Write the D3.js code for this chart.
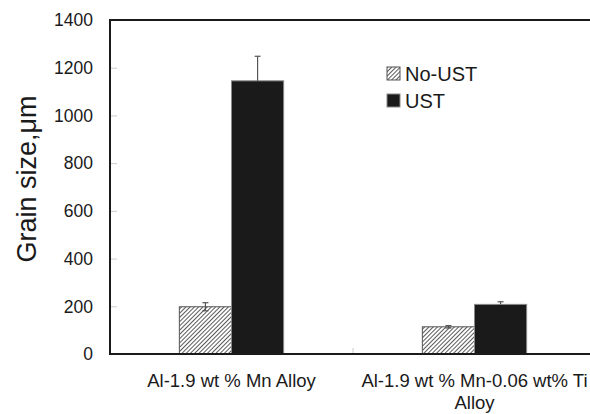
<!DOCTYPE html>
<html><head><meta charset="utf-8">
<script src="https://cdn.jsdelivr.net/npm/d3@7"></script>
<style>body{margin:0;background:#fff}svg{display:block}text{font-family:Arial,"Liberation Sans",sans-serif;fill:#1a1a1a}</style>
</head><body>
<svg id="c" width="590" height="414"></svg>
<script>
const categories = [["Al-1.9 wt % Mn Alloy"], ["Al-1.9 wt % Mn-0.06 wt% Ti", "Alloy"]];
const seriesNames = ["No-UST", "UST"];
const noUST = [198, 114];
const noUSTErr = [17, 5];
const ust = [1145, 208];
const ustErr = [103, 11];
const yTicks = [0, 200, 400, 600, 800, 1000, 1200, 1400];

const svg = d3.select("#c");
const m = {l: 110, r: 596, t: 20, b: 354};
const defs = svg.append("defs");
const pat = defs.append("pattern").attr("id", "hatch").attr("patternUnits", "userSpaceOnUse")
  .attr("width", 3).attr("height", 3).attr("patternTransform", "rotate(45)");
pat.append("rect").attr("width", 3).attr("height", 3).attr("fill", "#fff");
pat.append("line").attr("x1", 0).attr("y1", 0).attr("x2", 0).attr("y2", 3).attr("stroke", "#222").attr("stroke-width", 1.5);

const x0 = d3.scaleBand().domain(d3.range(categories.length)).range([m.l, m.r]);
const x1 = d3.scaleBand().domain(seriesNames).range([0, x0.bandwidth()]).paddingInner(0).paddingOuter(1.33);
const y = d3.scaleLinear().domain([0, 1400]).range([m.b, m.t]);

// y ticks
const ya = svg.append("g").attr("transform", `translate(${m.l},0)`)
  .call(d3.axisRight(y).tickValues(yTicks).tickSize(7).tickFormat(""));
ya.select(".domain").remove();
ya.selectAll("line").attr("stroke", "#ccc");
svg.append("g").selectAll("text").data(yTicks).join("text")
  .attr("x", 93).attr("y", d => y(d)).attr("dy", "0.36em").attr("text-anchor", "end")
  .attr("font-size", 17.5).text(d => d);

// category separator tick
svg.append("line").attr("x1", x0(1)).attr("x2", x0(1)).attr("y1", m.b).attr("y2", m.b - 6).attr("stroke", "#ccc");

const data = [
  {s: "No-UST", vals: noUST, errs: noUSTErr, fill: "url(#hatch)", stroke: "#555"},
  {s: "UST", vals: ust, errs: ustErr, fill: "#1a1a1a", stroke: "#888"}
];
data.forEach(ser => {
  ser.vals.forEach((v, i) => {
    const bx = x0(i) + x1(ser.s);
    svg.append("rect").attr("x", bx).attr("y", y(v)).attr("width", x1.bandwidth()).attr("height", y(0) - y(v))
      .attr("fill", ser.fill).attr("stroke", ser.stroke).attr("stroke-width", 1);
    const cx = bx + x1.bandwidth() / 2;
    const e = ser.errs[i];
    svg.append("line").attr("x1", cx).attr("x2", cx).attr("y1", y(v - (ser.s === "No-UST" ? e : 0))).attr("y2", y(v + e)).attr("stroke", "#555").attr("stroke-width", 1.2);
    svg.append("line").attr("x1", cx - 3).attr("x2", cx + 3).attr("y1", y(v + e)).attr("y2", y(v + e)).attr("stroke", "#555").attr("stroke-width", 1.2);
    if (ser.s === "No-UST") svg.append("line").attr("x1", cx - 3).attr("x2", cx + 3).attr("y1", y(v - e)).attr("y2", y(v - e)).attr("stroke", "#555").attr("stroke-width", 1.2);
  });
});

// axes lines
svg.append("line").attr("x1", m.l).attr("x2", 590).attr("y1", m.t).attr("y2", m.t).attr("stroke", "#1a1a1a").attr("stroke-width", 2);
svg.append("line").attr("x1", m.l).attr("x2", 590).attr("y1", m.b).attr("y2", m.b).attr("stroke", "#1a1a1a").attr("stroke-width", 2);
svg.append("line").attr("x1", m.l).attr("x2", m.l).attr("y1", m.t - 1).attr("y2", m.b + 1).attr("stroke", "#1a1a1a").attr("stroke-width", 2);

// x labels
categories.forEach((lines, i) => {
  const cx = x0(i) + x0.bandwidth() / 2;
  const t = svg.append("text").attr("x", cx).attr("y", 387).attr("text-anchor", "middle").attr("font-size", 18.5);
  lines.forEach((ln, j) => t.append("tspan").attr("x", cx).attr("dy", j ? 21.5 : 0).text(ln));
});

// y label
svg.append("text").attr("transform", "translate(36,179) rotate(-90)").attr("text-anchor", "middle").attr("font-size", 27).text("Grain size,μm");

// legend
const lg = svg.append("g");
data.forEach((ser, i) => {
  const cy = 73.5 + i * 27;
  lg.append("rect").attr("x", 387).attr("y", cy - 6.5).attr("width", 13).attr("height", 13).attr("fill", ser.fill).attr("stroke", ser.stroke);
  lg.append("text").attr("x", 405).attr("y", cy).attr("dy", "0.36em").attr("font-size", 20).text(ser.s);
});
</script>
</body></html>
